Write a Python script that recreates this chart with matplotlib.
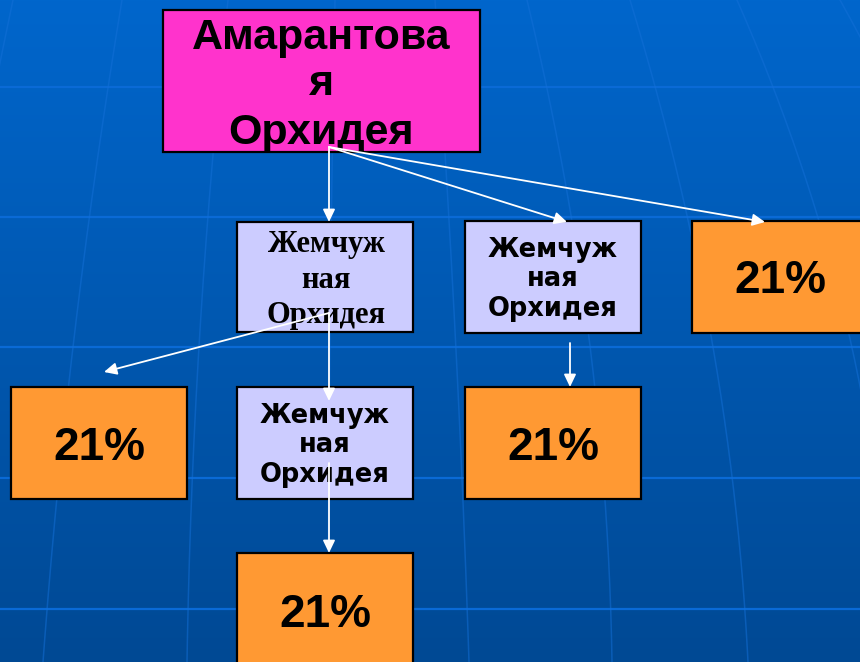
import numpy as np
import matplotlib
matplotlib.use("Agg")
import matplotlib.pyplot as plt
from matplotlib.patches import Rectangle, FancyArrowPatch

# ---------------- content ----------------
root_lines = ["Амарантова", "я", "Орхидея"]
pearl_lines = ["Жемчуж", "ная", "Орхидея"]
share_values = [21, 21, 21, 21]          # percent shown in the four orange boxes

# ---------------- layout (pixels, y downward) ----------------
W, H = 860, 662
root_box = (163, 10, 480, 152)
pearl_boxes = [(237, 222, 413, 332), (465, 221, 641, 333), (237, 387, 413, 499)]
pearl_fonts = ["serif", "sans", "sans"]
share_boxes = [(692, 221, 868, 333), (11, 387, 187, 499),
               (465, 387, 641, 499), (237, 553, 413, 670)]
share_baselines = [293, 460, 460, 627]
arrows = [((329, 147), (329, 222)), ((329, 147), (567, 222)),
          ((329, 147), (765, 222)), ((329, 313), (104, 372)),
          ((329, 313), (329, 401)), ((329, 463), (329, 553)),
          ((570, 343), (570, 387))]

fig = plt.figure(figsize=(8.6, 6.62), dpi=100)
ax = fig.add_axes([0, 0, 1, 1])
ax.set_xlim(0, W)
ax.set_ylim(H, 0)
ax.axis("off")

# background gradient
top = np.array([0, 102, 204]) / 255
bot = np.array([0, 73, 148]) / 255
t = np.linspace(0, 1, 256)[:, None]
grad = (1 - t)[:, :, None] * top + t[:, :, None] * bot
grad = np.repeat(grad, 4, axis=1)
ax.imshow(grad, extent=[0, W, H, 0], aspect="auto", zorder=0)

# background grid (decor)
ax.hlines([87, 217, 347, 478, 609], 0, W, color="#0a6ad6", lw=1.6, zorder=1)
meridians = [(13, -50, -100), (122, 75, 43), (228, 200, 187), (335, 330, 328),
             (435, 455, 469), (527, 588, 612), (630, 710, 748),
             (737, 848, 890), (840, 980, 1030)]
ys = np.linspace(0, H, 200)
for xt, xm, xb in meridians:
    c = np.polyfit([0, 330, H], [xt, xm, xb], 2)
    ax.plot(np.polyval(c, ys), ys, color="#1470d8", lw=1.1, alpha=0.5, zorder=1)


def box(b, fc):
    x0, y0, x1, y1 = b
    ax.add_patch(Rectangle((x0, y0), x1 - x0, y1 - y0, facecolor=fc,
                           edgecolor="black", lw=1.6, zorder=3))


# root box
box(root_box, "#ff33cc")
cx = (root_box[0] + root_box[2]) / 2
for s, yb in zip(root_lines, [49, 95, 144]):
    ax.text(cx, yb, s, ha="center", va="baseline", fontsize=31,
            fontweight="bold", family="Liberation Sans", color="black", zorder=4)

# pearl boxes
for b, f in zip(pearl_boxes, pearl_fonts):
    box(b, "#ccccff")
    cx = (b[0] + b[2]) / 2
    if f == "serif":
        bl = [b[1] + 30, b[1] + 66, b[1] + 101]
        for s, yb in zip(pearl_lines, bl):
            ax.text(cx + 1, yb, s, ha="center", va="baseline", fontsize=22,
                    fontweight="bold", family="Liberation Serif", color="black", zorder=4)
    else:
        bl = [b[1] + 36, b[1] + 65, b[1] + 95]
        for s, yb in zip(pearl_lines, bl):
            ax.text(cx, yb, s, ha="center", va="baseline", fontsize=18.5,
                    fontweight="bold", family="DejaVu Sans", color="black", zorder=4)

# share boxes
for b, v, yb in zip(share_boxes, share_values, share_baselines):
    box(b, "#ff9933")
    cx = (b[0] + b[2]) / 2
    ax.text(cx, yb, f"{v}%", ha="center", va="baseline", fontsize=33,
            fontweight="bold", family="Liberation Sans", color="black", zorder=4)

# arrows
for p0, p1 in arrows:
    ax.add_patch(FancyArrowPatch(p0, p1, arrowstyle="-|>,head_length=0.5,head_width=0.24",
                                 mutation_scale=15, color="white", lw=1.3,
                                 shrinkA=0, shrinkB=0, zorder=5))

fig.savefig("out.png", dpi=100)
